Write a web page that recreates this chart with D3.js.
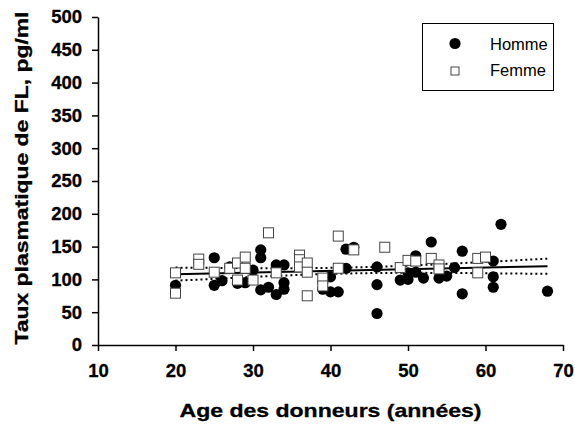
<!DOCTYPE html>
<html>
<head>
<meta charset="utf-8">
<script src="https://cdn.jsdelivr.net/npm/d3@7"></script>
<style>
  body { margin: 0; background: #fff; }
  svg { display: block; font-family: "Liberation Sans", Arial, sans-serif; }
</style>
</head>
<body>
<div id="chart"></div>
<script>
// Homme (filled circles): age, FL level
const hommeAge = [20, 25, 25, 26, 27, 28, 29, 30, 31, 31, 31, 32, 33, 33, 34, 34, 34,
    39, 40, 40, 41, 42, 42, 43, 46, 46, 46, 49, 50, 50, 51, 51, 52, 53, 54, 55, 56,
    57, 57, 61, 61, 61, 62, 68];
const hommeFL = [91, 133, 91, 98, 119, 94, 95, 114, 145, 133, 84, 88, 122, 77, 122, 95, 85,
    85, 104, 81, 81, 117, 146, 149, 119, 92, 48, 99, 110, 100, 136, 111, 102, 157, 102, 105, 118,
    143, 78, 128, 104, 88, 184, 82];

// Femme (open squares)
const femmeAge = [20, 20, 23, 23, 25, 27, 28, 28, 29, 29, 30, 32, 33, 36, 36, 36, 37, 37, 37,
    39, 39, 41, 41, 43, 47, 49, 50, 51, 53, 54, 54, 59, 60, 59];
const femmeFL = [110, 79, 131, 123, 111, 117, 125, 99, 134, 117, 99, 171, 110, 137, 130, 119, 125, 111, 75,
    102, 90, 166, 117, 145, 149, 118, 129, 128, 132, 122, 116, 132, 134, 110];

// regression line and its confidence band
const fitAge = [20, 68];
const fitFL = [108, 120];
const bandAge = [20, 25, 30, 35, 40, 45, 50, 55, 60, 65, 68];
const bandUpper = [118, 117.5, 117.2, 117.1, 117.6, 118.9, 121, 123.7, 126.6, 129.7, 131.5];
const bandLower = [98, 100.9, 103.8, 106.4, 108.4, 109.6, 110, 109.8, 109.4, 108.8, 108.5];

const xTicks = [10, 20, 30, 40, 50, 60, 70];
const yTicks = d3.range(0, 501, 50);

const width = 575, height = 424;

const svg = d3.select("#chart").append("svg")
    .attr("width", width)
    .attr("height", height);

const x = d3.scaleLinear().domain([10, 70]).range([98, 563]);
const y = d3.scaleLinear().domain([0, 500]).range([345, 17]);

// axes
const xAxis = svg.append("g")
    .attr("transform", "translate(0," + y(0) + ")")
    .call(d3.axisBottom(x).tickValues(xTicks).tickSize(6).tickPadding(13).tickSizeOuter(0));

const yAxis = svg.append("g")
    .attr("transform", "translate(" + x(10) + ",0)")
    .call(d3.axisLeft(y).tickValues(yTicks).tickSize(6).tickPadding(10).tickSizeOuter(0));

[xAxis, yAxis].forEach(function(g) {
    g.select(".domain").attr("stroke", "#000").attr("stroke-width", 1.5);
    g.selectAll(".tick line").attr("stroke", "#000").attr("stroke-width", 1.5);
    g.selectAll(".tick text")
        .attr("fill", "#000")
        .attr("stroke", "#000")
        .attr("stroke-width", 0.3)
        .attr("font-size", 18.5)
        .attr("font-weight", "bold")
        .attr("font-family", "'Liberation Sans', Arial, sans-serif");
});

// axis titles
svg.append("text")
    .attr("x", (x(10) + x(70)) / 2)
    .attr("y", 417)
    .attr("text-anchor", "middle")
    .attr("font-size", 18.5)
    .attr("font-weight", "bold")
    .attr("stroke", "#000")
    .attr("stroke-width", 0.3)
    .attr("textLength", 302)
    .attr("lengthAdjust", "spacingAndGlyphs")
    .text("Age des donneurs (années)");

svg.append("text")
    .attr("transform", "translate(28," + (y(250) - 3) + ") rotate(-90)")
    .attr("text-anchor", "middle")
    .attr("font-size", 18.5)
    .attr("font-weight", "bold")
    .attr("stroke", "#000")
    .attr("stroke-width", 0.3)
    .attr("textLength", 333)
    .attr("lengthAdjust", "spacingAndGlyphs")
    .text("Taux plasmatique de FL, pg/ml");

// confidence band (dotted) and fit (solid)
const line = d3.line()
    .x(function(d) { return x(d[0]); })
    .y(function(d) { return y(d[1]); })
    .curve(d3.curveMonotoneX);

[bandUpper, bandLower].forEach(function(band) {
    svg.append("path")
        .datum(bandAge.map(function(a, i) { return [a, band[i]]; }))
        .attr("d", line)
        .attr("fill", "none")
        .attr("stroke", "#000")
        .attr("stroke-width", 2)
        .attr("stroke-dasharray", "2,3");
});

svg.append("path")
    .datum(fitAge.map(function(a, i) { return [a, fitFL[i]]; }))
    .attr("d", line)
    .attr("fill", "none")
    .attr("stroke", "#000")
    .attr("stroke-width", 2);

// points
const hommes = hommeAge.map(function(a, i) { return {age: a, fl: hommeFL[i]}; });
const femmes = femmeAge.map(function(a, i) { return {age: a, fl: femmeFL[i]}; });

svg.append("g").selectAll("circle")
    .data(hommes)
    .enter()
    .append("circle")
    .attr("cx", function(d) { return x(d.age); })
    .attr("cy", function(d) { return y(d.fl); })
    .attr("r", 5.6)
    .attr("fill", "#000");

const sq = 10;
svg.append("g").selectAll("rect")
    .data(femmes)
    .enter()
    .append("rect")
    .attr("x", function(d) { return x(d.age) - sq / 2; })
    .attr("y", function(d) { return y(d.fl) - sq / 2; })
    .attr("width", sq)
    .attr("height", sq)
    .attr("fill", "#fff")
    .attr("stroke", "#444")
    .attr("stroke-width", 1);

// legend
const legend = svg.append("g");
legend.append("rect")
    .attr("x", 422.5).attr("y", 23.5)
    .attr("width", 131).attr("height", 67)
    .attr("fill", "#fff")
    .attr("stroke", "#000")
    .attr("stroke-width", 1);

legend.append("circle")
    .attr("cx", 455).attr("cy", 43.5)
    .attr("r", 5.6)
    .attr("fill", "#000");
legend.append("rect")
    .attr("x", 451).attr("y", 67)
    .attr("width", 8).attr("height", 8)
    .attr("fill", "#fff")
    .attr("stroke", "#444");

legend.append("text")
    .attr("x", 490).attr("y", 49.5)
    .attr("font-size", 16.5)
    .text("Homme");
legend.append("text")
    .attr("x", 490).attr("y", 76)
    .attr("font-size", 16.5)
    .text("Femme");
</script>
</body>
</html>
